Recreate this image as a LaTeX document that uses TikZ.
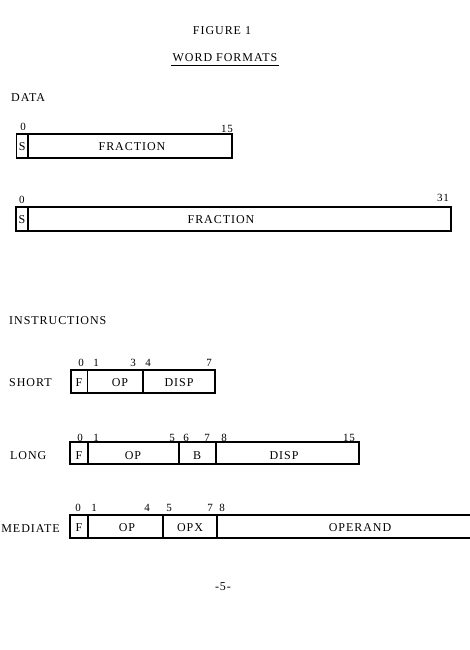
\documentclass[tikz,border=0pt]{standalone}
\usepackage{fontspec}
\setmainfont{Liberation Serif}[LetterSpace=8]
\usepackage{tikz}
\usetikzlibrary{positioning}

\tikzset{
  box/.style={line width=1.2pt},
  bit/.style={inner sep=1pt,font=\fontsize{11}{12}\selectfont},
  lbl/.style={inner sep=1pt}
}

\begin{document}
\begin{tikzpicture}[x=1pt,y=-1pt,font=\fontsize{12}{14}\selectfont]
   \useasboundingbox[fill=white] (0,0) rectangle (470,650);
   % titles
   \node[lbl] (fig) at (222,31) {FIGURE 1};
   \node[lbl] (wf) at (225,58) {WORD FORMATS};
   \draw[thin] ([yshift=-1.5pt]wf.south west) -- ([yshift=-1.5pt]wf.south east);
   \node[lbl,anchor=west] (data) at (10,98) {DATA};
   % 16 bit data word
   \draw[box] (16.7,134) rectangle (232,158);
   \draw[box] (28,134) -- (28,158);
   \node[bit] (d0) at (23,127) {0};
   \node[bit] (d15) at (227,129) {15};
   \node (sA) at (22.3,147) {S};
   \node (fracA) at (132,147) {FRACTION};
   % 32 bit data word
   \draw[box] (16,207) rectangle (451,231);
   \draw[box] (28,207) -- (28,231);
   \node[bit] (e0) at (22,200) {0};
   \node[bit] (e31) at (443,198) {31};
   \node (sB) at (22,220) {S};
   \node (fracB) at (221,220) {FRACTION};
   \node[lbl,anchor=west] (instr) at (8,321) {INSTRUCTIONS};
   % short
   \node[lbl,anchor=west] (short) at (8,383) {SHORT};
   \draw[box] (71,370) rectangle (215,393);
   \draw[box] (87.5,370) -- (87.5,393);
   \draw[box] (143,370) -- (143,393);
   \foreach \b/\x in {0/81,1/96,3/133,4/148,7/209}
      \node[bit] (s\b) at (\x,363) {\b};
   \node (sF) at (79,383) {F};
   \node (sOp) at (120,383) {OP};
   \node (sDisp) at (179,383) {DISP};
   % long
   \node[lbl,anchor=west] (long) at (9,456) {LONG};
   \draw[box] (70,442) rectangle (359,464);
   \foreach \x in {88,179,216}
      \draw[box] (\x,442) -- (\x,464);
   \foreach \b/\x in {0/80,1/96,5/172,6/186,7/207,8/224,15/349}
      \node[bit] (l\b) at (\x,438) {\b};
   \node (lF) at (79,456) {F};
   \node (lOp) at (133,456) {OP};
   \node (lB) at (197,456) {B};
   \node (lDisp) at (284,456) {DISP};
   % immediate
   \node[lbl,anchor=east] (imm) at (61,529) {IMMEDIATE};
   \draw[box] (70,515) rectangle (480,538);
   \foreach \x in {88,163,217}
      \draw[box] (\x,515) -- (\x,538);
   \foreach \b/\x in {0/78,1/94,4/147,5/169,7/210,8/222}
      \node[bit] (i\b) at (\x,508) {\b};
   \node (iF) at (79,528) {F};
   \node (iOp) at (127,528) {OP};
   \node (iOpx) at (190,528) {OPX};
   \node (iOperand) at (360,528) {OPERAND};
   % page number
   \node (page) at (223,587) {-5-};
\end{tikzpicture}
\end{document}
